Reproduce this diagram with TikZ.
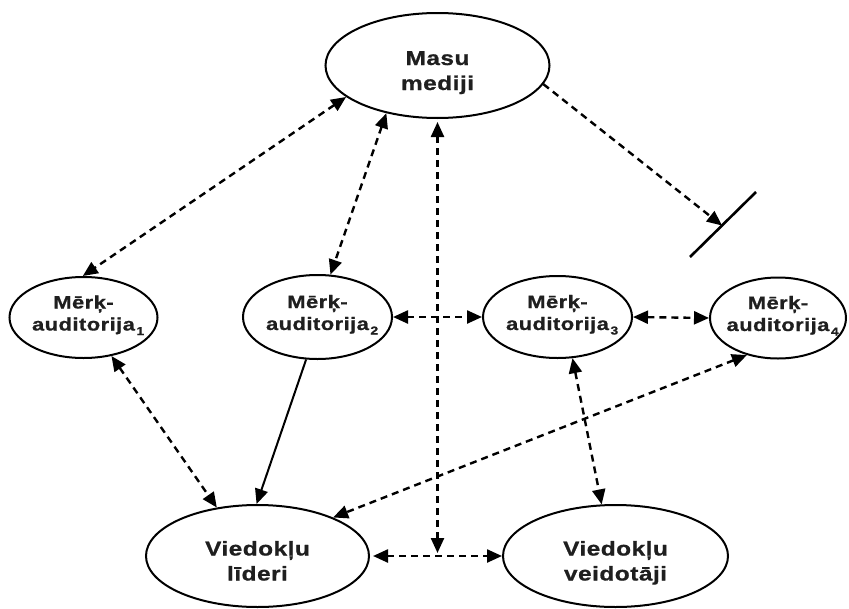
\documentclass[tikz,border=0pt]{standalone}
\usepackage{fontspec}
\setmainfont{Liberation Sans}
\newfontfamily\labfont[FakeStretch=1.22,LetterSpace=2.5,FakeBold=0.8]{Liberation Sans Bold}
\usetikzlibrary{shapes.geometric,arrows.meta}
\newcommand\zw[1]{\makebox[0pt]{#1}}
\newcommand\twolines[3]{\zw{\raisebox{0pt}[#1][0pt]{#2}}\\\zw{\raisebox{0pt}[0pt][0pt]{#3}}}
\newcommand\sbx[1]{\rlap{\hspace{1.5pt}\raisebox{-4.5pt}{\fontsize{11.5}{11.5}\selectfont #1}}}
\begin{document}
\begin{tikzpicture}[x=1pt,y=-1pt,
  ell/.style={draw, ellipse, line width=2pt, inner sep=0pt, align=center, text=black!88},
  bigt/.style={font=\fontsize{20}{25}\selectfont\labfont},
  smallt/.style={font=\fontsize{18}{22}\selectfont\labfont},
  tipx/.tip={Triangle[length=15pt,width=13pt]},
  dd/.style={line width=2.4pt, dash pattern=on 7pt off 5pt, tipx-tipx},
  sd/.style={line width=2.4pt, dash pattern=on 7pt off 5pt, -tipx},
  sa/.style={line width=2pt, -tipx},
  barline/.style={line width=2.6pt}
]
\useasboundingbox (0,0) rectangle (849,608);

\node[ell, bigt, minimum width=224pt, minimum height=105pt] (masu) at (437.5,65.5) {\twolines{24pt}{Masu}{mediji}};
\node[ell, smallt, minimum width=148pt, minimum height=81pt] (m1) at (83.5,317.5) {\twolines{4pt}{Mērķ-}{auditorija\sbx{1}}};
\node[ell, smallt, minimum width=149pt, minimum height=84pt] (m2) at (317.5,317) {\twolines{4pt}{Mērķ-}{auditorija\sbx{2}}};
\node[ell, smallt, minimum width=149pt, minimum height=82pt] (m3) at (557.5,317) {\twolines{4pt}{Mērķ-}{auditorija\sbx{3}}};
\node[ell, smallt, minimum width=136pt, minimum height=81pt] (m4) at (778,318) {\twolines{4pt}{Mērķ-}{auditorija\sbx{4}}};
\node[ell, bigt, minimum width=223pt, minimum height=102pt] (lid) at (257.5,556) {\twolines{24pt}{Viedokļu}{līderi}};
\node[ell, bigt, minimum width=225pt, minimum height=102pt] (vei) at (615.5,556) {\twolines{24pt}{Viedokļu}{veidotāji}};

\coordinate (bar1) at (690,257);
\coordinate (bar2) at (756,192);
\coordinate (barmid) at (722,225.5);
\coordinate (vm) at (masu.south |- lid.east);

\draw[dd] (masu.199) -- (m1.91);
\draw[dd] (masu.223.6) -- (m2.73.4);
\draw[dd, shorten <=3pt, shorten >=3pt] (masu.south) -- (vm);
\draw[sd] (masu.-10.4) -- (barmid);
\draw[barline] (bar1) -- (bar2);
\draw[dd] (m2.east) -- (m3.west);
\draw[dd] (m3.east) -- (m4.west);
\draw[dd] (m1.-54.9) -- (lid.130.5);
\draw[sa] (m2.-105.5) -- (lid.91);
\draw[dd] (m4.230.2) -- (lid.27.4);
\draw[dd] (m3.-70.9) -- (vei.105.1);
\draw[dd, shorten <=3pt] (lid.east) -- (vei.west);
\end{tikzpicture}
\end{document}
